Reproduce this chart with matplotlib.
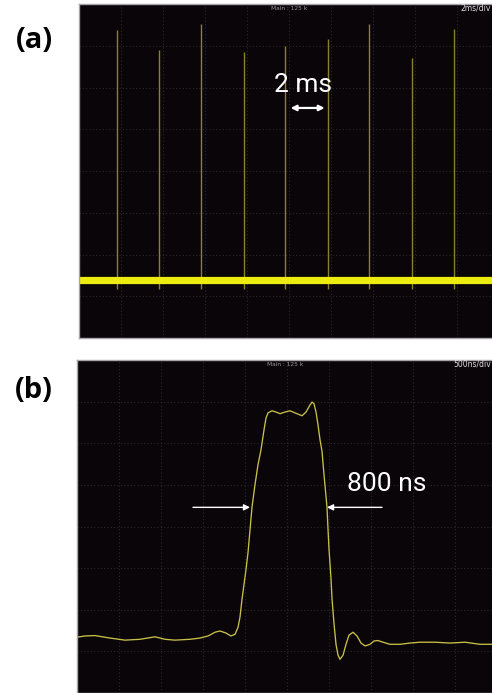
import matplotlib
matplotlib.use("Agg")
from matplotlib import pyplot as plt
import numpy

# ---- data ----
# (a) 2 ms/div : pulse train, amplitude in divisions
spike_ms = [1.82, 3.82, 5.83, 7.84, 9.83, 11.86, 13.83, 15.84, 17.84]
spike_top = [3.38, 2.90, 3.52, 2.85, 2.99, 3.16, 3.52, 2.70, 3.40]
spike_bottom = -2.82
baseline_ms = [0.0, 19.67]
baseline_level = [-2.62, -2.62]

# (b) 500 ns/div : single pulse, amplitude in divisions
pulse_ns = [0, 95, 214, 393, 571, 750, 929, 1048, 1167, 1345, 1464, 1560,
            1643, 1702, 1774, 1833, 1881, 1917, 1940, 1964, 1988, 2012, 2036,
            2060, 2083, 2119, 2155, 2190, 2226, 2250, 2274, 2321, 2369, 2417,
            2476, 2536, 2595, 2679, 2726, 2774, 2798, 2821, 2845, 2869, 2893,
            2917, 2940, 2976, 2988, 3000, 3024, 3036, 3060, 3083, 3107, 3131,
            3167, 3202, 3238, 3286, 3333, 3381, 3429, 3488, 3536, 3583, 3643,
            3726, 3845, 3964, 4083, 4262, 4440, 4619, 4798, 4940]
pulse_div = [-2.66, -2.63, -2.62, -2.68, -2.73, -2.71, -2.65, -2.71, -2.73,
             -2.71, -2.68, -2.63, -2.54, -2.51, -2.56, -2.63, -2.59, -2.42,
             -2.18, -1.75, -1.39, -1.03, -0.62, -0.07, 0.46, 1.01, 1.49, 1.84,
             2.32, 2.61, 2.73, 2.78, 2.75, 2.71, 2.75, 2.78, 2.73, 2.66, 2.75,
             2.92, 2.99, 2.95, 2.75, 2.44, 2.08, 1.80, 1.25, 0.46, -0.07,
             -0.55, -1.27, -1.75, -2.35, -2.83, -3.09, -3.19, -3.09, -2.83,
             -2.61, -2.54, -2.63, -2.80, -2.87, -2.83, -2.75, -2.74, -2.78,
             -2.83, -2.83, -2.80, -2.78, -2.78, -2.80, -2.78, -2.83, -2.83]

BG = '#0a0508'
GRID = '#2c2729'


def setup_screen(ax, xmax, xstep):
    ax.set_facecolor(BG)
    ax.set_xlim(0, xmax)
    ax.set_ylim(-4, 4)
    ax.set_xticks(numpy.arange(xstep, xmax, xstep))
    ax.set_yticks(numpy.arange(-3, 4, 1))
    ax.tick_params(length=0, labelbottom=False, labelleft=False)
    ax.grid(True, linestyle=(0, (1, 2)), color=GRID, linewidth=0.8)
    ax.set_axisbelow(True)
    for side in ['left', 'top', 'bottom']:
        ax.spines[side].set_color('#a8a4a8')
        ax.spines[side].set_linewidth(1.0)
    ax.spines['right'].set_visible(False)


fig = plt.figure(figsize=(4.92, 6.93), dpi=100)

# panel (a)
ax1 = fig.add_axes([79/492, 1 - 338/693, 413/492, 334/693])
setup_screen(ax1, 19.67, 2)
ax1.vlines(spike_ms, spike_bottom, spike_top, color='#8a8030', linewidth=1.0)
ax1.plot(baseline_ms, baseline_level, color='#ecec10', linewidth=5.2,
         solid_capstyle='butt')
ax1.text(10.0, 3.90, 'Main : 125 k', color='#9a96a0', fontsize=4.2,
         ha='center', va='center')
ax1.text(19.62, 3.90, '2ms/div', color='#e0dce0', fontsize=5.5,
         ha='right', va='center')
ax1.text(10.67, 2.05, '2 ms', color='white', fontsize=19, family='Roboto',
         ha='center', va='center')
ax1.annotate('', xy=(11.70, 1.51), xytext=(10.08, 1.51),
             arrowprops=dict(arrowstyle='<|-|>', color='white', lw=1.6,
                             mutation_scale=8, shrinkA=0, shrinkB=0))

# panel (b)
ax2 = fig.add_axes([77/492, 0, 415/492, 333/693])
setup_screen(ax2, 4940, 500)
ax2.plot(pulse_ns, pulse_div, color='#c8c048', linewidth=0.95)
ax2.text(2480, 3.90, 'Main : 125 k', color='#9a96a0', fontsize=4.2,
         ha='center', va='center')
ax2.text(4925, 3.90, '500ns/div', color='#e0dce0', fontsize=5.5,
         ha='right', va='center')
ax2.text(3690, 1.01, '800 ns', color='white', fontsize=19, family='Roboto',
         ha='center', va='center')
ax2.annotate('', xy=(2060, 0.46), xytext=(1381, 0.46),
             arrowprops=dict(arrowstyle='-|>', color='white', lw=1.0,
                             mutation_scale=9, shrinkA=0, shrinkB=0))
ax2.annotate('', xy=(2976, 0.46), xytext=(3631, 0.46),
             arrowprops=dict(arrowstyle='-|>', color='white', lw=1.0,
                             mutation_scale=9, shrinkA=0, shrinkB=0))

# panel letters
fig.text(34/492, 1 - 40/693, '(a)', fontsize=21, fontweight='bold',
         family='Open Sans', ha='center', va='center')
fig.text(34/492, 1 - 390/693, '(b)', fontsize=21, fontweight='bold',
         family='Open Sans', ha='center', va='center')

plt.savefig('out.png', dpi=100, facecolor='white')
